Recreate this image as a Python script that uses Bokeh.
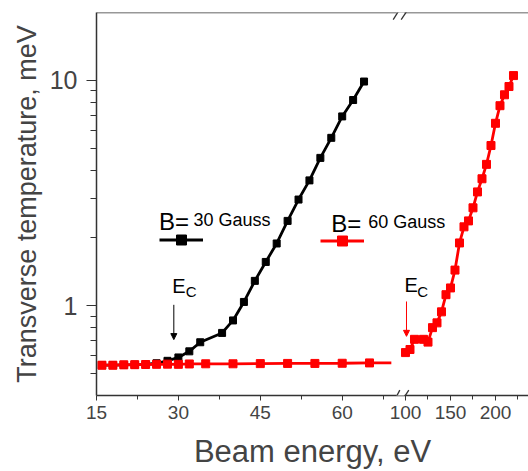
from bokeh.plotting import figure
from bokeh.models import (Range1d, FixedTicker, Span, Label, Arrow, NormalHead,
                          BoxAnnotation, Legend, LegendItem, CDSView, IndexFilter,
                          ColumnDataSource)
from bokeh.core.properties import value
from bokeh.embed import file_html
from bokeh.resources import INLINE

# ---------------- data ----------------
black_energy = [16, 18, 20, 22, 24, 26, 28, 30, 32, 34, 38, 40, 42, 44, 46, 48,
                50, 52, 54, 56, 58, 60, 62, 64]
black_temp = [0.545, 0.545, 0.547, 0.548, 0.550, 0.556, 0.570, 0.590, 0.628, 0.689,
              0.758, 0.861, 1.04, 1.29, 1.565, 1.89, 2.38, 2.96, 3.60, 4.53,
              5.56, 6.92, 8.18, 9.88]

red_low_energy = [16, 18, 20, 22, 24, 26, 28, 30, 32, 35, 40, 45, 50, 55, 60, 65, 69]
red_low_temp = [0.545, 0.545, 0.547, 0.548, 0.549, 0.550, 0.551, 0.550, 0.552, 0.553,
                0.553, 0.554, 0.555, 0.555, 0.556, 0.558, 0.558]

red_high_energy = [100, 105, 110, 120, 125, 130, 135, 140, 145, 150, 155, 160, 165,
                   170, 175, 180, 185, 190, 195, 200, 205, 210, 215, 220]
red_high_temp = [0.62, 0.64, 0.71, 0.71, 0.69, 0.80, 0.84, 0.94, 1.12, 1.20, 1.44,
                 1.90, 2.24, 2.38, 2.72, 3.20, 3.66, 4.24, 5.14, 6.45, 7.72, 8.63,
                 9.39, 10.5]

low_ticks = [15, 30, 45, 60]
low_minor = [22.5, 37.5, 52.5, 67.5]
high_ticks = [100, 150, 200]
high_minor = [125, 175, 225]
y_ticks = [1, 10]
y_minor = [0.5, 0.6, 0.7, 0.8, 0.9, 2, 3, 4, 5, 6, 7, 8, 9]

LO = (15.0, 94.12)      # left (low-energy) segment range, spread across frame
HI = (-243.33, 236.67)  # right (high-energy) segment range, spread across frame
YR = (0.4, 20.0)

FONT = "Liberation Sans"
AXC = "#333333"

p = figure(width=528, height=471, x_range=Range1d(*LO), y_range=Range1d(*YR),
           y_axis_type="log", output_backend="svg", toolbar_location=None,
           min_border_left=96, min_border_right=0, min_border_top=12,
           min_border_bottom=75, background_fill_color="white",
           border_fill_color="white")
p.extra_x_ranges = {"hi": Range1d(*HI)}
p.outline_line_color = None
p.grid.visible = False

# ---------------- series ----------------
bsrc = ColumnDataSource(dict(x=black_energy, y=black_temp))
bl_line = p.line("x", "y", source=bsrc, line_color="black", line_width=2.8)
bl_pts = p.scatter("x", "y", source=bsrc, marker="square", size=7,
                   fill_color="black", line_color="black")

rsrc = ColumnDataSource(dict(x=red_low_energy, y=red_low_temp))
rd_line = p.line("x", "y", source=rsrc, line_color="red", line_width=2.8)
rd_pts = p.scatter("x", "y", source=rsrc, marker="square", size=8,
                   fill_color="red", line_color="red",
                   view=CDSView(filter=IndexFilter(list(range(len(red_low_energy) - 1)))))

hsrc = ColumnDataSource(dict(x=red_high_energy, y=red_high_temp))
p.line("x", "y", source=hsrc, x_range_name="hi", line_color="red", line_width=2.8)
p.scatter("x", "y", source=hsrc, x_range_name="hi", marker="square", size=8,
          fill_color="red", line_color="red")

# ---------------- axes ----------------
def hi_to_lo(v):
    return round(LO[0] + (v - HI[0]) * (LO[1] - LO[0]) / (HI[1] - HI[0]), 6)

xa = p.xaxis[0]
xa.ticker = FixedTicker(ticks=low_ticks + [hi_to_lo(t) for t in high_ticks],
                        minor_ticks=low_minor + [hi_to_lo(t) for t in high_minor])
xa.major_label_overrides = {hi_to_lo(t): str(t) for t in high_ticks}
xa.axis_label = "Beam energy, eV"
xa.axis_label_text_font = FONT
xa.axis_label_text_font_size = "31px"
xa.axis_label_text_font_style = "normal"
xa.axis_label_standoff = 12
xa.major_label_text_font = FONT
xa.major_label_text_font_size = "19px"
xa.major_label_standoff = 5
xa.major_tick_out = 5
xa.major_tick_in = 0
xa.minor_tick_out = 4
xa.minor_tick_in = 0
xa.axis_line_color = AXC
xa.axis_line_width = 1.5
xa.major_tick_line_color = AXC
xa.minor_tick_line_color = AXC

ya = p.yaxis[0]
ya.ticker = FixedTicker(ticks=y_ticks, minor_ticks=y_minor)
ya.major_label_overrides = {t: str(t) for t in y_ticks}
ya.axis_label = "Transverse temperature, meV"
ya.axis_label_text_font = FONT
ya.axis_label_text_font_size = "27px"
ya.axis_label_text_font_style = "normal"
ya.axis_label_standoff = 5
ya.major_label_text_font = FONT
ya.major_label_text_font_size = "25px"
ya.major_label_standoff = 9
ya.major_tick_out = 10
ya.major_tick_in = 0
ya.minor_tick_out = 6
ya.minor_tick_in = 0
ya.axis_line_color = AXC
ya.axis_line_width = 1.5
ya.major_tick_line_color = AXC
ya.minor_tick_line_color = AXC

# top frame line
p.add_layout(Span(location=YR[1], dimension="width", line_color=AXC, line_width=1.5))

# axis break marks
for (b, t) in [(0.38, 0.42), (19.2, 20.8)]:
    p.add_layout(BoxAnnotation(left=69.95, right=71.41, bottom=b, top=t,
                               fill_color="white", fill_alpha=1.0, line_alpha=0,
                               level="overlay"))
for (x0, y0, x1, y1) in [(69.41, 0.374, 70.55, 0.4227), (70.80, 0.374, 72.19, 0.4227),
                         (69.34, 18.59, 70.49, 20.6), (70.80, 18.59, 72.03, 20.6)]:
    p.add_layout(Arrow(end=None, x_start=x0, y_start=y0, x_end=x1, y_end=y1,
                       line_color=AXC, line_width=1.3, level="overlay"))

# ---------------- legend samples ----------------
for rends, loc in [([bl_line, bl_pts], (63, 143.5)), ([rd_line, rd_pts], (224, 141.8))]:
    p.add_layout(Legend(items=[LegendItem(label=value(""), renderers=rends)],
                        location=loc, glyph_width=44, glyph_height=25, padding=0,
                        margin=0, spacing=0, label_width=0, label_height=0,
                        label_standoff=0, border_line_color=None,
                        background_fill_alpha=0, label_text_font_size="1px"))

def lab(x, y, text, size, color="black", rng="default"):
    p.add_layout(Label(x=x, y=y, text=text, text_font=FONT, text_font_size=size,
                       text_color=color, text_baseline="alphabetic",
                       x_range_name=rng))

lab(26.45, 2.374, "B=", "24px")
lab(32.77, 2.41, "30 Gauss", "18px")
lab(57.99, 2.325, "B=", "24px")
lab(64.76, 2.35, "60 Gauss", "18px")

lab(28.86, 1.222, "E", "20px")
lab(31.36, 1.153, "C", "15px")
lab(98.9, 1.241, "E", "20px", rng="hi")
lab(113.0, 1.161, "C", "15px", rng="hi")

p.add_layout(Arrow(end=NormalHead(size=6, fill_color="black", line_color="black"),
                   x_start=29.16, y_start=1.01, x_end=29.16, y_end=0.708,
                   line_color="black", line_width=1))
p.add_layout(Arrow(end=NormalHead(size=6, fill_color="red", line_color="red"),
                   x_start=101.1, y_start=1.045, x_end=101.1, y_end=0.732,
                   line_color="red", line_width=1, x_range_name="hi"))

open("out.html", "w").write(file_html(p, INLINE))
